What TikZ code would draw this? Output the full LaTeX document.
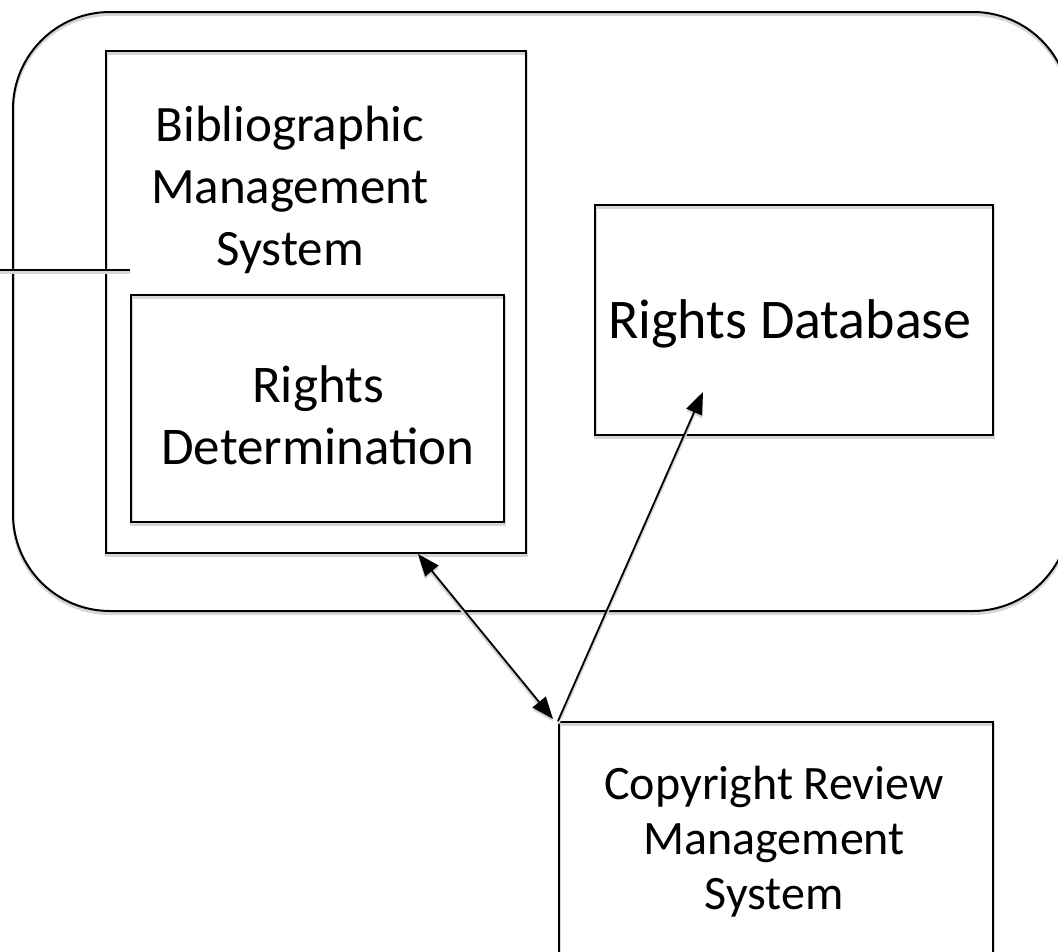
\documentclass[tikz,border=0pt]{standalone}
\usepackage{fontspec}
\setmainfont{Carlito}
\usetikzlibrary{arrows.meta}
\tikzset{
  x=1pt, y=-1pt,
  shade line/.style={preaction={draw=black!16, line width=3pt, transform canvas={yshift=-2.5pt}}},
  box/.style={draw=black, line width=2pt, shade line, rectangle, anchor=north west, inner sep=0pt},
  lbl/.style={align=center, inner sep=0pt},
  link/.style={line width=1.8pt, shade line},
  tip/.style={-{Triangle[length=22pt,width=17pt]}},
  tips/.style={{Triangle[length=22pt,width=17pt]}-{Triangle[length=22pt,width=17pt]}}
}
\begin{document}
\begin{tikzpicture}
\useasboundingbox (0,0) rectangle (1058,951);
\clip (0,0) rectangle (1058,951);

% enclosing rounded region
\draw[line width=2pt, shade line, rounded corners=97pt] (13,12) rectangle (1070,611);

% boxes
\node[box, minimum width=420pt, minimum height=502pt] (bms) at (105,50) {};
\node[box, minimum width=373pt, minimum height=227pt] (rd) at (130,294) {};
\node[box, minimum width=398pt, minimum height=230pt] (db) at (594,204) {};
\node[box, minimum width=434pt, minimum height=260pt] (crms) at (558,721) {};

% labels
\node[lbl, font=\fontsize{51}{62}\selectfont] (bmsl) at (290,190) {Bibliographic\\Management\\System};
\node[lbl, font=\fontsize{53}{62}\selectfont] (rdl) at (318,415) {Rights\\Determination};
\node[lbl, font=\fontsize{56}{62}\selectfont] (dbl) at (790,324) {Rights Database};
\node[lbl, font=\fontsize{48}{55}\selectfont] (crmsl) at (774,842) {Copyright Review\\Management\\System};

% line entering from the left
\coordinate (lin) at (0,270);
\coordinate (lend) at (130,270);
\draw[link, line width=2pt] (lin) -- (lend);

% connectors
\coordinate (a1) at (418,554);
\coordinate (a2) at (553,719);
\draw[link, tips] (a1) -- (a2);
\coordinate (b2) at (703,392);
\draw[link, tip] (crms.north west) -- (b2);
\end{tikzpicture}
\end{document}
